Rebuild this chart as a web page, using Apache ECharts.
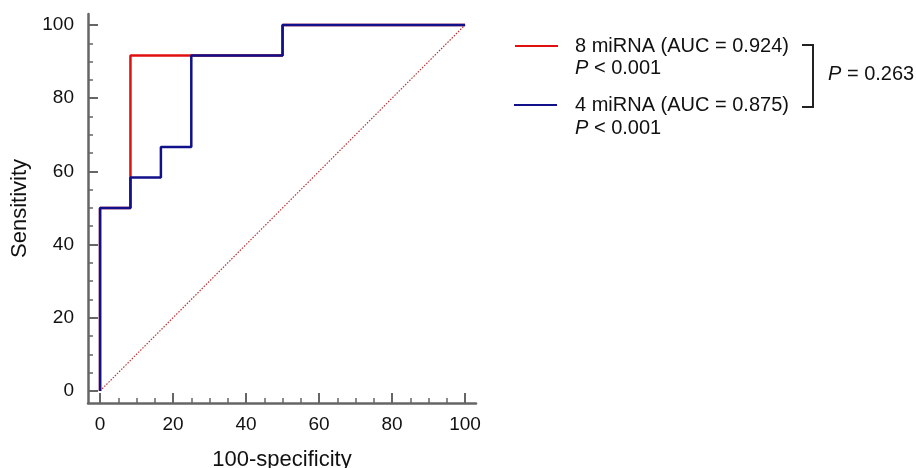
<!DOCTYPE html>
<html lang="en">

<head>
    <meta charset="UTF-8">
    <title>ROC</title>
    <style>
        body { margin: 0; background: #fff; }
        .mychart { width: 916px; height: 468px; }
    </style>
</head>

<body>
    <div class="mychart"></div>
</body>
<script src="https://cdn.jsdelivr.net/npm/echarts@6/dist/echarts.min.js"></script>
<script>
    // ROC curve points (100-specificity, sensitivity)
    const fpr8 = [0, 0, 8.33, 8.33, 50, 50, 100]
    const sens8 = [0, 50, 50, 91.67, 91.67, 100, 100]
    const fpr4 = [0, 0, 8.33, 8.33, 16.67, 16.67, 25, 25, 50, 50, 100]
    const sens4 = [0, 50, 50, 58.33, 58.33, 66.67, 66.67, 91.67, 91.67, 100, 100]
    const refLine = [[0, 0], [100, 100]]

    const majorTicks = [0, 20, 40, 60, 80, 100]
    const minorTicks = [5, 10, 15, 25, 30, 35, 45, 50, 55, 65, 70, 75, 85, 90, 95]

    const legendNames = ['8 miRNA (AUC = 0.924)', '4 miRNA (AUC = 0.875)']
    const legendP = ' < 0.001'
    const compareP = ' = 0.263'

    const red = '#e01010'
    const navy = '#10108a'
    const axisColor = '#666'
    const font = 'Liberation Sans, Arial, sans-serif'

    const zip = (a, b) => a.map((v, i) => [v, b[i]])

    const mychartDom = document.querySelector('.mychart')
    const myChart = echarts.init(mychartDom)

    function mainAxis(name, isX) {
        return {
            type: 'value',
            min: -3.3,
            max: 103,
            position: isX ? 'bottom' : 'left',
            name: name,
            nameLocation: 'middle',
            nameGap: isX ? 46 : 57,
            nameTextStyle: { fontFamily: font, fontSize: 22, color: '#111' },
            axisLine: { show: true, onZero: false, lineStyle: { color: axisColor, width: 2.5 } },
            axisTick: { show: true, inside: true, length: 10, customValues: majorTicks, lineStyle: { color: axisColor, width: 2 } },
            axisLabel: { customValues: majorTicks, fontFamily: font, fontSize: 19, color: '#111', margin: isX ? 12 : 14 },
            splitLine: { show: false }
        }
    }

    function minorAxis(isX) {
        return {
            type: 'value',
            min: -3.3,
            max: 103,
            position: isX ? 'bottom' : 'left',
            axisLine: { show: false, onZero: false },
            axisTick: { show: true, inside: true, length: 5, customValues: minorTicks, lineStyle: { color: axisColor, width: 1.5 } },
            axisLabel: { show: false },
            splitLine: { show: false }
        }
    }

    const txt = (x, y, text) => ({
        type: 'text', x: x, y: y,
        style: { text: text, fontFamily: font, fontSize: 20, fill: '#111', textVerticalAlign: 'middle' }
    })
    const pText = (x, y, rest) => ({
        type: 'text', x: x, y: y,
        style: {
            text: '{i|P}' + rest, fontFamily: font, fontSize: 20, fill: '#111', textVerticalAlign: 'middle',
            rich: { i: { fontStyle: 'italic', fontFamily: font, fontSize: 20, fill: '#111' } }
        }
    })
    const seg = (x1, y1, x2, y2, color, w) => ({
        type: 'line', shape: { x1: x1, y1: y1, x2: x2, y2: y2 }, style: { stroke: color, lineWidth: w }
    })

    const config = {
        animation: false,
        grid: { left: 88, right: 440, top: 14, bottom: 65, containLabel: false, outerBoundsMode: 'none' },
        xAxis: [mainAxis('100-specificity', true), minorAxis(true)],
        yAxis: [mainAxis('Sensitivity', false), minorAxis(false)],
        series: [
            {
                type: 'line', data: refLine, symbol: 'none', silent: true,
                lineStyle: { color: '#b83434', width: 1.2, type: [1.5, 1.5] }
            },
            {
                type: 'line', name: legendNames[0], data: zip(fpr8, sens8), symbol: 'none',
                lineStyle: { color: red, width: 2.5 }
            },
            {
                type: 'line', name: legendNames[1], data: zip(fpr4, sens4), symbol: 'none',
                lineStyle: { color: navy, width: 2.5 }
            }
        ],
        graphic: [
            seg(515, 46, 558, 46, red, 1.8),
            seg(514, 105, 557, 105, navy, 1.8),
            txt(575, 46, legendNames[0]),
            pText(575, 68, legendP),
            txt(575, 105, legendNames[1]),
            pText(575, 128, legendP),
            seg(802, 45, 813, 45, '#222', 2),
            seg(813, 44, 813, 108, '#222', 2),
            seg(802, 107, 813, 107, '#222', 2),
            pText(828, 74, compareP)
        ]
    }
    myChart.setOption(config)
</script>

</html>
